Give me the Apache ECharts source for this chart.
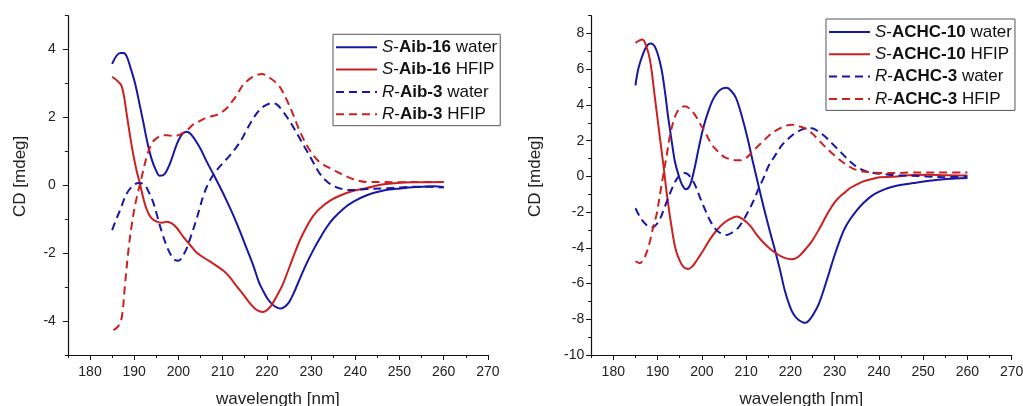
<!DOCTYPE html>
<html><head><meta charset="utf-8">
<script src="https://cdn.jsdelivr.net/npm/echarts/dist/echarts.min.js"></script>
<style>html,body{margin:0;padding:0;background:#fff}#c{width:1023px;height:406px}</style>
</head><body><div id="c"></div><script>
// ---------- data (wavelength nm, CD mdeg) ----------
const xTickLabels = [180, 190, 200, 210, 220, 230, 240, 250, 260, 270];
const leftNames = ['S-Aib-16 water', 'S-Aib-16 HFIP', 'R-Aib-3 water', 'R-Aib-3 HFIP'];
const rightNames = ['S-ACHC-10 water', 'S-ACHC-10 HFIP', 'R-ACHC-3 water', 'R-ACHC-3 HFIP'];

const aib16Water = [[185,3.58],[186,3.82],[186.9,3.9],[187.6,3.9],[188.3,3.8],[189.2,3.45],[190.2,3.0],[191.2,2.4],[192.1,1.83],[193,1.25],[194,0.75],[194.9,0.45],[195.8,0.28],[196.8,0.32],[198.1,0.65],[199.6,1.2],[200.8,1.5],[201.9,1.58],[203,1.48],[204.9,1.1],[206.4,0.7],[207.9,0.33],[209.4,-0.05],[210.9,-0.45],[212.4,-0.88],[213.9,-1.35],[215.4,-1.85],[216.9,-2.35],[218.2,-2.85],[219.2,-3.12],[220.2,-3.35],[221.2,-3.5],[222.2,-3.6],[223,-3.63],[224,-3.58],[225,-3.45],[226,-3.2],[227.5,-2.74],[229,-2.3],[230.5,-1.91],[232,-1.56],[233.6,-1.22],[235.1,-0.97],[237.4,-0.68],[239.6,-0.48],[242.6,-0.29],[246.4,-0.15],[250.2,-0.09],[254,-0.05],[257.7,-0.03],[260,-0.05]];
const aib16Hfip = [[185,3.2],[186,3.1],[187.2,2.91],[188.3,2.1],[189,1.5],[189.8,0.9],[190.6,0.4],[191.3,0.05],[192,-0.35],[192.8,-0.7],[193.8,-0.95],[195.1,-1.07],[196.3,-1.1],[197.4,-1.07],[198.5,-1.12],[199.6,-1.25],[201.1,-1.52],[202.6,-1.75],[204.1,-1.98],[205.6,-2.12],[207.1,-2.24],[208.7,-2.38],[210.2,-2.52],[211.7,-2.72],[213.2,-2.98],[214.7,-3.22],[216,-3.45],[217.2,-3.62],[218.3,-3.71],[219.2,-3.73],[220.2,-3.66],[221.2,-3.5],[222.3,-3.25],[223.5,-2.95],[224.5,-2.62],[226,-2.1],[227.5,-1.61],[229,-1.22],[230.5,-0.9],[232,-0.68],[234.3,-0.45],[236.6,-0.3],[239.6,-0.16],[242.6,-0.08],[246.4,0.03],[250.2,0.08],[254.7,0.09],[260,0.1]];
const aib3Water = [[185,-1.32],[186,-0.98],[186.8,-0.73],[187.6,-0.45],[188.3,-0.24],[189.8,0],[191.1,0.07],[192.3,0.02],[193.3,-0.2],[194.3,-0.5],[195.3,-0.95],[196.3,-1.4],[197.4,-1.81],[198.3,-2.05],[199.2,-2.2],[200,-2.22],[200.8,-2.12],[201.9,-1.85],[202.7,-1.55],[203.4,-1.28],[204.2,-0.95],[204.9,-0.63],[205.7,-0.28],[206.5,-0.02],[207.5,0.23],[208.7,0.45],[210,0.65],[211.7,0.89],[213.2,1.14],[214.4,1.38],[215.4,1.63],[216.6,1.9],[217.7,2.12],[218.8,2.28],[220,2.38],[221.1,2.42],[222.3,2.38],[223.4,2.22],[224.5,2.02],[225.7,1.78],[227.2,1.44],[228.7,1.09],[230.2,0.75],[231.7,0.4],[233.2,0.16],[235.1,-0.02],[237.4,-0.12],[239.6,-0.14],[242.6,-0.11],[246.4,-0.09],[250.2,-0.06],[254.7,-0.04],[260,-0.06]];
const aib3Hfip = [[185.3,-4.27],[186.4,-4.15],[187.2,-3.88],[187.9,-2.95],[188.7,-1.9],[189.4,-1.2],[190,-0.72],[190.6,-0.34],[191.7,0.25],[192.8,0.84],[193.5,1.1],[194.3,1.3],[195.8,1.45],[197.4,1.48],[198.9,1.45],[200.4,1.5],[201.9,1.62],[203.4,1.8],[204.9,1.9],[206.4,2.0],[208,2.05],[209.4,2.12],[210.9,2.27],[212.2,2.48],[213.2,2.66],[214.4,2.92],[215.6,3.08],[216.6,3.18],[217.7,3.25],[218.9,3.28],[220,3.22],[221.2,3.12],[222.3,3.0],[223.2,2.85],[224.5,2.52],[226,2.07],[227.5,1.58],[229,1.19],[230.5,0.89],[232,0.68],[233.6,0.55],[235.1,0.45],[237.4,0.3],[239.6,0.18],[242.6,0.1],[246.4,0.1],[250.2,0.09],[254.7,0.1],[260,0.1]];

const achc10Water = [[185,5.1],[185.7,6.08],[186.8,6.92],[187.7,7.35],[188.5,7.45],[189.3,7.3],[190.1,6.8],[190.9,5.99],[191.7,4.68],[192.4,3.3],[193.2,1.95],[193.9,0.85],[194.7,0.1],[195.5,-0.45],[196.4,-0.72],[197.3,-0.5],[198.3,0.4],[199.3,1.6],[200.3,2.7],[201.4,3.6],[202.5,4.3],[203.7,4.75],[204.6,4.92],[205.6,4.96],[206.6,4.8],[207.7,4.4],[208.6,3.75],[209.6,2.85],[210.5,1.95],[211.4,0.95],[212.4,-0.1],[213.4,-1.15],[214.5,-2.25],[215.5,-3.2],[216.5,-4.1],[217.65,-5.23],[218.8,-6.45],[219.9,-7.29],[220.8,-7.75],[221.8,-8.03],[222.8,-8.17],[223.4,-8.2],[224.2,-8.07],[225.2,-7.72],[226.4,-7.15],[227.6,-6.3],[228.8,-5.35],[230,-4.4],[231.2,-3.55],[232.3,-2.9],[233.5,-2.4],[235,-1.9],[236.5,-1.49],[238.3,-1.1],[240.2,-0.84],[242.1,-0.65],[244,-0.52],[247.8,-0.37],[251.5,-0.24],[255.3,-0.15],[260,-0.09]];
const achc10Hfip = [[185,7.48],[185.8,7.6],[186.5,7.67],[187.3,7.4],[188.3,6.5],[189.4,4.4],[190.3,2.6],[191.3,0.66],[192.2,-1.2],[193.2,-2.9],[194.1,-4.1],[195.1,-4.77],[196,-5.1],[196.9,-5.18],[197.8,-5.05],[198.8,-4.72],[200.3,-4.15],[201.9,-3.5],[203.4,-3.0],[204.9,-2.62],[206.4,-2.38],[207.9,-2.25],[209.4,-2.42],[210.9,-2.76],[212.4,-3.27],[213.9,-3.7],[215.4,-4.05],[216.9,-4.33],[218.4,-4.53],[220.3,-4.64],[221.8,-4.5],[223.5,-4.05],[224.8,-3.65],[226.5,-2.95],[227.9,-2.3],[228.9,-1.87],[230,-1.45],[231.2,-1.12],[232.4,-0.88],[233.5,-0.65],[235,-0.45],[236.5,-0.28],[238.2,-0.16],[240.2,-0.05],[243.3,-0.02],[247.8,0.08],[251,0.09],[255,0.06],[260,0.05]];
const achc3Water = [[185,-1.78],[186.1,-2.3],[187.2,-2.65],[188.3,-2.85],[189.3,-2.8],[190.5,-2.4],[191.7,-1.65],[192.8,-0.95],[194,-0.28],[195.1,0.08],[196.2,0.19],[197.3,0.0],[198.5,-0.5],[199.6,-1.2],[200.7,-1.85],[201.9,-2.5],[203.1,-2.95],[204.3,-3.2],[205.6,-3.28],[207,-3.12],[208.3,-2.85],[209.5,-2.4],[210.6,-1.9],[211.7,-1.35],[212.8,-0.7],[214,-0.05],[215.1,0.6],[216.5,1.15],[218.1,1.75],[219.5,2.1],[220.8,2.38],[222.2,2.58],[223.7,2.7],[224.8,2.7],[226.3,2.52],[227.9,2.22],[229.4,1.85],[230.9,1.48],[232.4,1.1],[233.9,0.75],[235.4,0.47],[236.9,0.3],[238.8,0.19],[241,0.13],[244.1,0.06],[247.1,0.04],[250.8,0.0],[254.6,-0.04],[260,0.0]];
const achc3Hfip = [[185,-4.75],[186,-4.86],[186.9,-4.6],[187.6,-4.2],[188.3,-3.6],[189.1,-2.75],[189.8,-2.1],[190.6,-0.9],[191.3,0.1],[192.1,1.25],[192.8,2.3],[193.6,3.1],[194.4,3.6],[195.3,3.85],[196.2,3.93],[197.2,3.8],[198.4,3.46],[199.6,2.95],[200.7,2.5],[202.2,1.8],[203.7,1.38],[205,1.1],[206.4,0.97],[207.7,0.9],[208.6,0.9],[210.1,1.05],[211.3,1.35],[212.7,1.7],[214.2,2.06],[215.7,2.4],[217.3,2.65],[218.8,2.82],[220.3,2.9],[221.8,2.82],[223.3,2.7],[224.8,2.43],[226.3,2.06],[227.9,1.65],[229.4,1.3],[230.9,0.98],[232.4,0.7],[233.9,0.47],[235.4,0.33],[236.9,0.26],[238.8,0.22],[241,0.19],[244.1,0.19],[247.1,0.22],[250.8,0.22],[254.6,0.22],[260,0.22]];

// ---------- styling / layout ----------
const FONT = '"Liberation Sans", Arial, sans-serif';
const BLUE = '#1717a3', RED = '#cc2020';
const AX = '#111', TXT = '#222';
const DASH = [8, 5];

const chart = echarts.init(document.getElementById('c'), null, {renderer: 'canvas'});

function mainX(gi) {
  return {type:'value', gridIndex:gi, min:175, max:270, interval:5,
    axisLine:{show:true, onZero:false, lineStyle:{color:AX, width:1.2}},
    axisTick:{show:true, inside:false, length:3, lineStyle:{color:AX, width:1}},
    axisLabel:{show:false}, splitLine:{show:false},
    name:'wavelength [nm]', nameLocation:'middle', nameGap:36,
    nameTextStyle:{fontFamily:FONT, fontSize:17, color:TXT}};
}
function majorX(gi, off) {
  return {type:'value', gridIndex:gi, min:xTickLabels[0], max:xTickLabels[xTickLabels.length-1], interval:10, offset:off,
    axisLine:{show:false, onZero:false},
    axisTick:{show:true, inside:false, length:5, lineStyle:{color:AX, width:1}},
    axisLabel:{show:true, margin:10, fontFamily:FONT, fontSize:14, color:TXT},
    splitLine:{show:false}};
}
function mainY(gi, mn, mx, gap, pad) {
  return {type:'value', gridIndex:gi, min:mn, max:mx, interval:1,
    axisLine:{show:true, onZero:false, lineStyle:{color:AX, width:1.2}},
    axisTick:{show:true, inside:false, length:3, lineStyle:{color:AX, width:1}},
    axisLabel:{show:false}, splitLine:{show:false},
    name:'CD [mdeg]', nameLocation:'middle', nameGap:gap,
    nameTextStyle:{fontFamily:FONT, fontSize:17, color:TXT, padding:pad}};
}
function majorY(gi, mn, mx, margin) {
  return {type:'value', gridIndex:gi, min:mn, max:mx, interval:2, offset:22.1,
    axisLine:{show:false, onZero:false},
    axisTick:{show:true, inside:false, length:5, lineStyle:{color:AX, width:1}},
    axisLabel:{show:true, margin:margin, fontFamily:FONT, fontSize:14, color:TXT},
    splitLine:{show:false}};
}

const richFmt = name => name.replace(/^(\w)-(\S+) (.*)$/, '{i|$1}{n|-}{b|$2}{n| $3}');
const LFS = 17;
const legendText = {fontFamily:FONT, fontSize:LFS, color:'#111', lineHeight:18,
  rich:{ i:{fontFamily:FONT, fontSize:LFS, fontStyle:'italic', color:'#111', lineHeight:18},
         b:{fontFamily:FONT, fontSize:LFS, fontWeight:'bold', color:'#111', lineHeight:18},
         n:{fontFamily:FONT, fontSize:LFS, color:'#111', lineHeight:18} }};
function legendAt(names, left, top) {
  return {data:names, orient:'vertical', left:left, top:top, itemWidth:41, itemHeight:14, itemGap:4.3,
    padding:[4,3,2.5,2], borderColor:'#555', borderWidth:1, backgroundColor:'#fff',
    selectedMode:false, formatter:richFmt, textStyle:legendText,
    itemStyle:{color:'rgba(0,0,0,0)', borderColor:'rgba(0,0,0,0)', borderWidth:0, opacity:0}};
}

function line(name, data, color, dashed, xi, yi) {
  return {type:'line', name, data, xAxisIndex:xi, yAxisIndex:yi, symbol:'none', smooth:0.35,
    lineStyle:{color, width:2, type: dashed ? DASH : 'solid'}, itemStyle:{color}, z:3, animation:false};
}

const G = {containLabel:false, outerBoundsMode:'none'};
chart.setOption({
  animation:false,
  backgroundColor:'#fff',
  grid:[
    Object.assign({left:67.9, top:15.7, width:420, height:339.3}, G),
    Object.assign({left:90.0, top:49.6, width:397.9, height:271.5}, G),
    Object.assign({left:591.2, top:15.7, width:420.5, height:339.3}, G),
    Object.assign({left:613.3, top:33.6, width:398.4, height:321.4}, G)
  ],
  xAxis:[ mainX(0), majorX(1, 33.9), mainX(2), majorX(3, 0) ],
  yAxis:[ mainY(0, -5, 5, 39, [0,0,0,18]), majorY(1, -4, 4, 12),
          mainY(2, -10, 9, 47, [0,0,0,18]), majorY(3, -10, 8, 7) ],
  legend:[ legendAt(leftNames, 333, 34.3), legendAt(rightNames, 826, 19) ],
  series:[
    line(leftNames[0], aib16Water, BLUE, false, 0, 0),
    line(leftNames[1], aib16Hfip, RED, false, 0, 0),
    line(leftNames[2], aib3Water, BLUE, true, 0, 0),
    line(leftNames[3], aib3Hfip, RED, true, 0, 0),
    line(rightNames[0], achc10Water, BLUE, false, 2, 2),
    line(rightNames[1], achc10Hfip, RED, false, 2, 2),
    line(rightNames[2], achc3Water, BLUE, true, 2, 2),
    line(rightNames[3], achc3Hfip, RED, true, 2, 2)
  ]
});
</script></body></html>
